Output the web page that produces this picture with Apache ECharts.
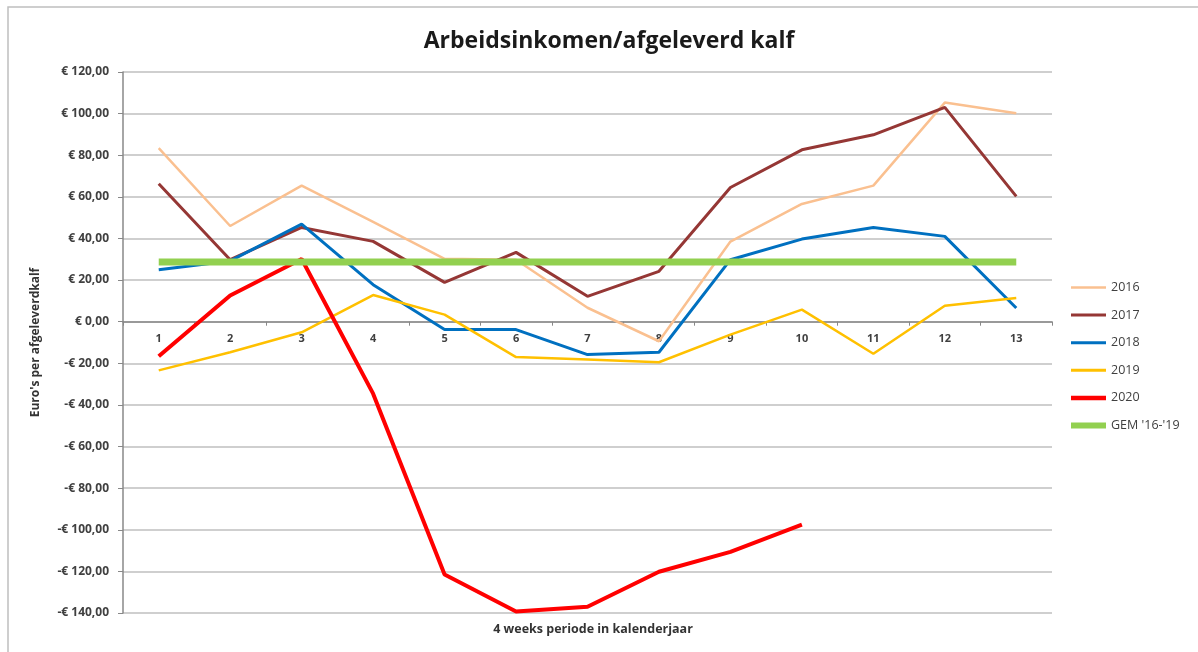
<!DOCTYPE html>
<html>
<head>
<meta charset="utf-8">
<script src="https://cdn.jsdelivr.net/npm/echarts@6/dist/echarts.min.js"></script>
<style>
  html, body { margin: 0; padding: 0; background: #fff; }
  #chart { width: 1198px; height: 652px; }
</style>
</head>
<body>
<div id="chart"></div>
<script>
// periods 1..13
const periods = ['1', '2', '3', '4', '5', '6', '7', '8', '9', '10', '11', '12', '13'];

const y2016 = [83.4, 46, 65.4, 48, 30.2, 29.8, 6.7, -9.4, 38.5, 56.6, 65.4, 105.3, 100.2];
const y2017 = [66.3, 29.8, 45.3, 38.6, 18.9, 33.3, 12.2, 24.2, 64.5, 82.6, 89.8, 103, 60.2];
const y2018 = [25, 29.2, 46.9, 17.8, -3.8, -3.8, -15.8, -14.7, 29.8, 39.7, 45.3, 41, 6.6];
const y2019 = [-23.4, -14.7, -5.1, 12.8, 3.4, -17, -18.2, -19.5, -6.2, 5.8, -15.4, 7.7, 11.4];
const y2020 = [-16.6, 12.6, 30.1, -34.6, -121.5, -139.3, -137, -120.2, -110.6, -97.5];
const gem = [28.7, 28.7, 28.7, 28.7, 28.7, 28.7, 28.7, 28.7, 28.7, 28.7, 28.7, 28.7, 28.7];

const textColor = '#404040';

function euro(v) {
    const s = '€ ' + Math.abs(v).toFixed(2).replace('.', ',');
    return v < 0 ? '-' + s : s;
}

function lineSeries(name, data, color, width) {
    return {
        name: name,
        type: 'line',
        data: data,
        symbol: 'none',
        lineStyle: { color: color, width: width },
        itemStyle: { color: color },
        animation: false
    };
}

// legend swatch: a flat bar, height = line width
function legendItem(name, color, width) {
    return {
        name: name,
        icon: 'path://M0,0h35v' + width + 'h-35z',
        itemStyle: { color: color }
    };
}

const myChart = echarts.init(document.getElementById('chart'));

// grid: top 72, bottom 39 -> zero line sits 291px above the bottom edge
const gridH = 652 - 72 - 39;
const zeroOffset = gridH * 140 / 260;

myChart.setOption({
    backgroundColor: '#fff',
    title: [{
        text: 'Arbeidsinkomen/afgeleverd kalf',
        left: 604,
        top: 25,
        textAlign: 'center',
        textStyle: { fontFamily: 'Open Sans', fontSize: 23, fontWeight: 'bold', color: '#1a1a1a' }
    }, {
        text: '4 weeks periode in kalenderjaar',
        left: 588,
        top: 618,
        textAlign: 'center',
        textStyle: { fontFamily: 'Open Sans', fontSize: 12.5, fontWeight: 'bold', color: '#333' }
    }],
    graphic: [{
        type: 'rect',
        shape: { x: 8, y: 7, width: 1300, height: 700 },
        style: { fill: 'none', stroke: '#bfbfbf', lineWidth: 1.5 },
        silent: true,
        z: -1
    }],
    legend: {
        orient: 'vertical',
        left: 1066,
        top: 276,
        itemWidth: 35,
        itemHeight: 8,
        itemGap: 14.6,
        textStyle: { fontFamily: 'Open Sans', fontSize: 12.5, color: textColor },
        data: [
            legendItem('2016', '#FAC090', 2.5),
            legendItem('2017', '#953735', 3),
            legendItem('2018', '#0070C0', 3),
            legendItem('2019', '#FFC000', 3),
            legendItem('2020', '#FF0000', 4.5),
            legendItem("GEM '16-'19", '#92D050', 6)
        ]
    },
    grid: { left: 123, right: 146, top: 72, bottom: 39 },
    xAxis: {
        type: 'category',
        data: periods,
        boundaryGap: true,
        offset: -zeroOffset,
        axisLine: { onZero: false, lineStyle: { color: '#888', width: 1.5 } },
        axisTick: { show: true, length: 4, lineStyle: { color: '#888' } },
        axisLabel: { fontFamily: 'Open Sans', fontSize: 11, fontWeight: 'bold', color: textColor, margin: 12 },
        splitLine: { show: false }
    },
    yAxis: {
        type: 'value',
        min: -140,
        max: 120,
        interval: 20,
        name: "Euro's per afgeleverdkalf",
        nameLocation: 'middle',
        nameGap: 81,
        nameTextStyle: { fontFamily: 'Open Sans', fontSize: 12, fontWeight: 'bold', color: '#333' },
        axisLine: { show: true, lineStyle: { color: '#888', width: 1.5 } },
        axisTick: { show: true, length: 5, lineStyle: { color: '#888' } },
        axisLabel: {
            fontFamily: 'Open Sans', fontSize: 12, fontWeight: 'bold', color: textColor, margin: 14,
            formatter: euro
        },
        splitLine: { show: true, lineStyle: { color: '#bfbfbf', width: 1.5 } }
    },
    series: [
        lineSeries('2016', y2016, '#FAC090', 2.5),
        lineSeries('2017', y2017, '#953735', 3),
        lineSeries('2018', y2018, '#0070C0', 3),
        lineSeries('2019', y2019, '#FFC000', 2.5),
        lineSeries('2020', y2020, '#FF0000', 4),
        lineSeries("GEM '16-'19", gem, '#92D050', 7)
    ]
});
</script>
</body>
</html>
